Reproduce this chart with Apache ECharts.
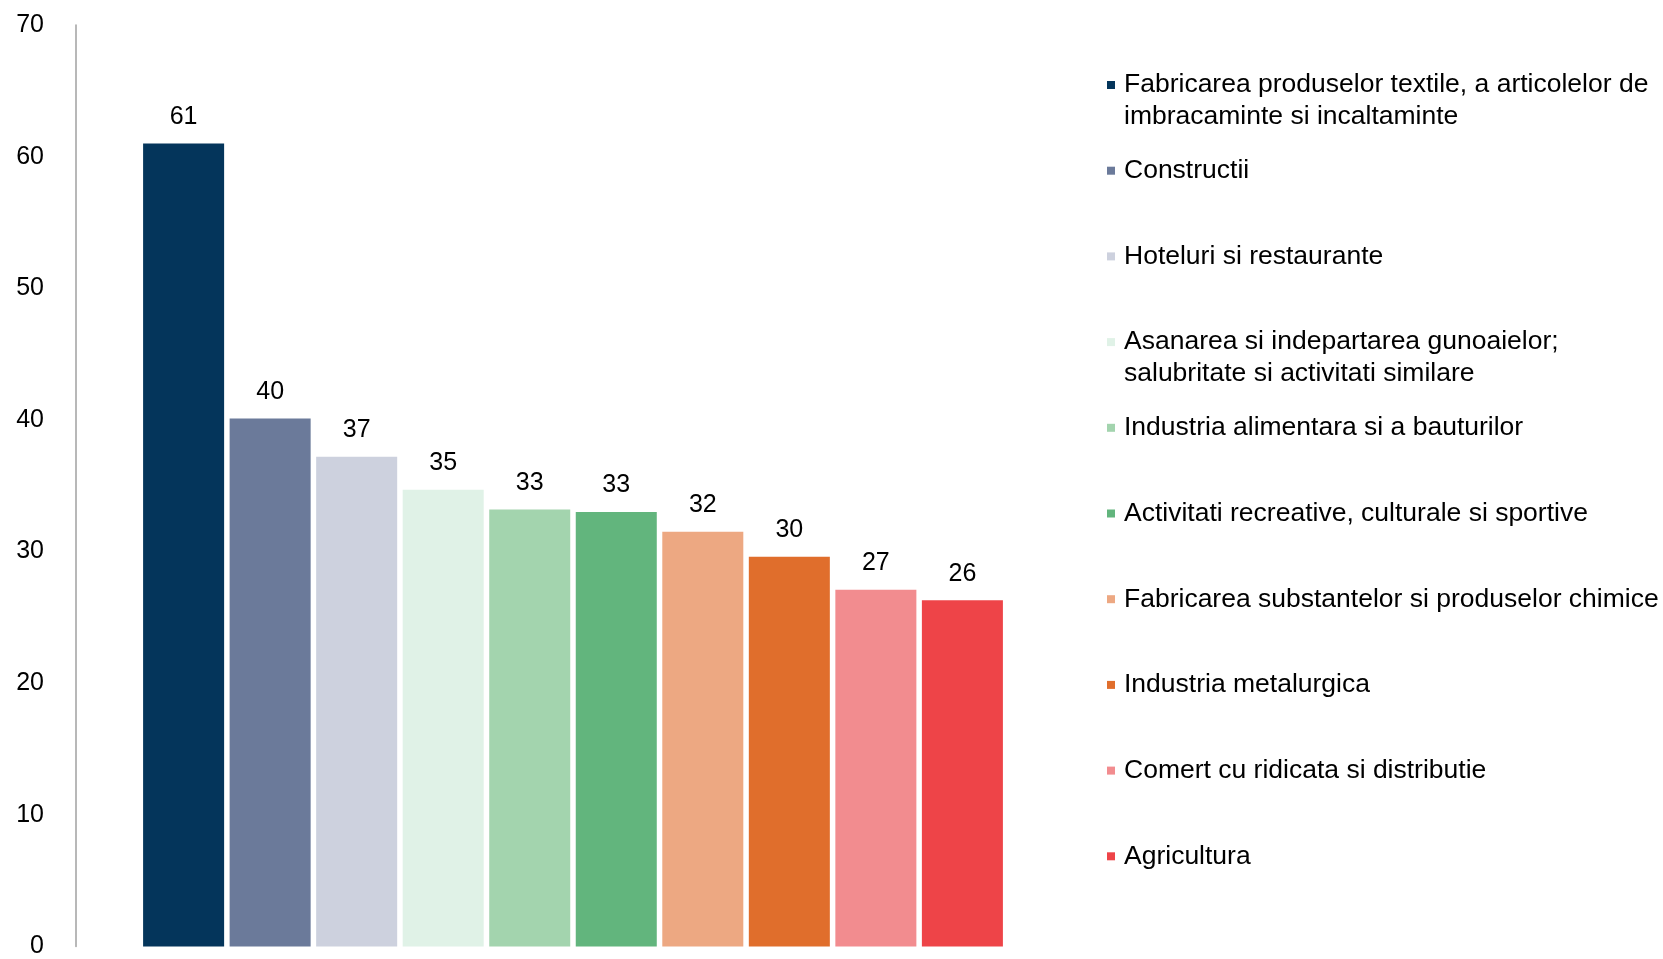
<!DOCTYPE html>
<html>
<head>
<meta charset="utf-8">
<script src="https://cdn.jsdelivr.net/npm/echarts@6/dist/echarts.min.js"></script>
<style>
html,body{margin:0;padding:0;background:#fff;}
#chart{width:1663px;height:959px;}
</style>
</head>
<body>
<div id="chart"></div>
<script>
// Data
const seriesNames = [
  'Fabricarea produselor textile, a articolelor de\nimbracaminte si incaltaminte',
  'Constructii',
  'Hoteluri si restaurante',
  'Asanarea si indepartarea gunoaielor;\nsalubritate si activitati similare',
  'Industria alimentara si a bauturilor',
  'Activitati recreative, culturale si sportive',
  'Fabricarea substantelor si produselor chimice',
  'Industria metalurgica',
  'Comert cu ridicata si distributie',
  'Agricultura'
];
const seriesValues = [61.0, 40.1, 37.2, 34.7, 33.2, 33.0, 31.5, 29.6, 27.1, 26.3];
const categories = [''];
const yTicks = { min: 0, max: 70, interval: 10 };

// Style palette
const palette = ['#04355B', '#6B7A9A', '#CDD1DE', '#E0F2E7', '#A3D4AE', '#62B57D',
                 '#EDA882', '#E06E2C', '#F28C8F', '#EE4448'];

const font = "'Liberation Sans', Arial, sans-serif";
const chart = echarts.init(document.getElementById('chart'), null, {renderer: 'canvas'});

const series = seriesNames.map((name, i) => ({
  name: name,
  type: 'bar',
  data: [seriesValues[i]],
  barGap: '6.8%',
  barCategoryGap: '13.5%',
  itemStyle: { color: palette[i] },
  label: {
    show: true,
    position: 'top',
    distance: 14,
    fontSize: 25,
    fontFamily: font,
    color: '#000',
    formatter: p => Math.round(p.value).toString()
  }
}));

chart.setOption({
  animation: false,
  color: palette,
  grid: { left: 76, top: 25, bottom: 12, right: 593 },
  xAxis: {
    type: 'category',
    data: categories,
    axisLine: { show: false },
    axisTick: { show: false },
    axisLabel: { show: false }
  },
  yAxis: {
    type: 'value',
    min: yTicks.min,
    max: yTicks.max,
    interval: yTicks.interval,
    axisLine: { show: true, lineStyle: { color: '#a0a0a0', width: 1.5 } },
    axisTick: { show: false },
    splitLine: { show: false },
    axisLabel: { fontSize: 25, fontFamily: font, color: '#000', margin: 32 }
  },
  legend: {
    orient: 'vertical',
    left: 1107,
    top: 37,
    padding: 0,
    icon: 'rect',
    itemWidth: 8,
    itemHeight: 8,
    itemGap: -10.3,
    selectedMode: false,
    data: seriesNames,
    formatter: name => {
      const parts = name.split('\n');
      return '\n' + parts[0] + '\n' + (parts[1] || '');
    },
    textStyle: {
      fontSize: 26.5,
      fontFamily: font,
      color: '#000',
      lineHeight: 32,
      padding: [0, 0, 0, 4]
    }
  },
  series: series
});
</script>
</body>
</html>
